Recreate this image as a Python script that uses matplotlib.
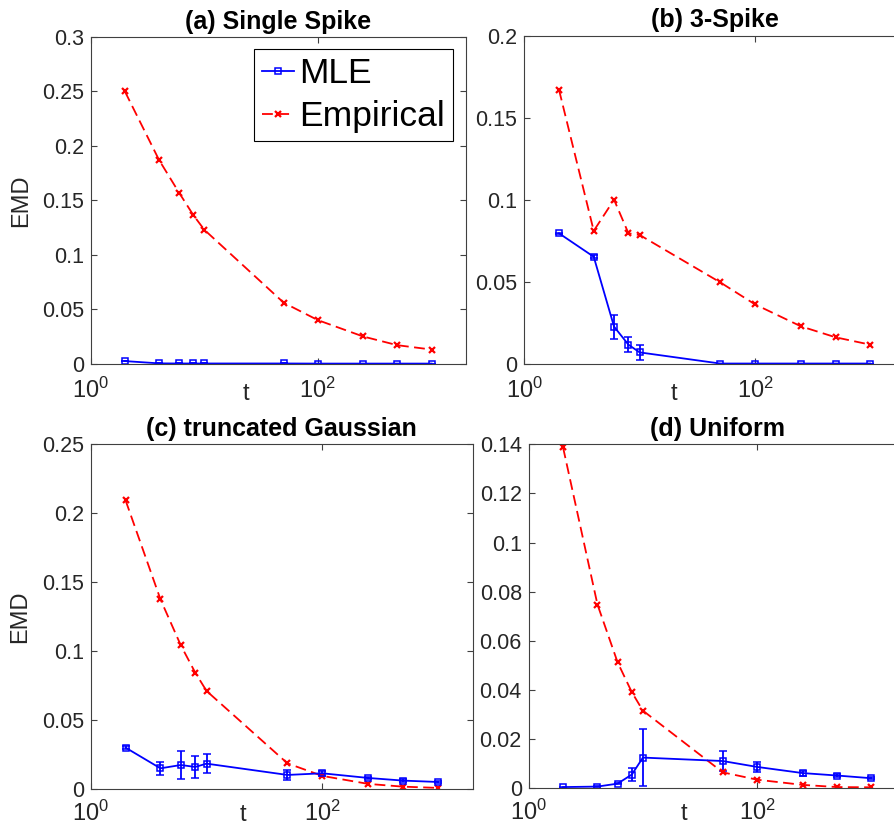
import numpy as np
import matplotlib.pyplot as plt
from matplotlib.ticker import FixedLocator, FormatStrFormatter, NullLocator

plt.rcParams['font.family'] = ['Liberation Sans', 'DejaVu Sans']
plt.rcParams['mathtext.default'] = 'regular'

######### DATA
t = [2, 4, 6, 8, 10, 50, 100, 250, 500, 1000]

titles = ['(a) Single Spike', '(b) 3-Spike', '(c) truncated Gaussian', '(d) Uniform']

emp_a = [0.250, 0.187, 0.157, 0.1365, 0.123, 0.056, 0.040, 0.025, 0.017, 0.013]
mle_a = [0.0024, 0.0003, 0.0002, 0.0002, 0.0002, 0.0002, 0.0001, 0.0001, 0.0001, 0.0001]
err_a = [0, 0, 0, 0, 0, 0, 0, 0, 0, 0]

emp_b = [0.167, 0.081, 0.100, 0.0795, 0.0785, 0.0496, 0.0362, 0.0228, 0.0161, 0.0116]
mle_b = [0.0795, 0.0652, 0.0226, 0.0116, 0.0069, 0.0001, 0.0001, 0.0001, 0.0001, 0.0001]
err_b = [0.0003, 0.001, 0.0073, 0.0045, 0.0044, 0, 0, 0, 0, 0]

emp_c = [0.2094, 0.1377, 0.1043, 0.0845, 0.0713, 0.0188, 0.0097, 0.0039, 0.0019, 0.001]
mle_c = [0.0302, 0.0152, 0.0176, 0.0162, 0.0186, 0.0104, 0.0116, 0.0082, 0.0063, 0.0053]
err_c = [0.001, 0.0045, 0.0104, 0.0077, 0.007, 0.0039, 0.002, 0.001, 0.0013, 0.0008]

emp_d = [0.1387, 0.0748, 0.0513, 0.0391, 0.0316, 0.0065, 0.0035, 0.0014, 0.0005, 0.0004]
mle_d = [0.0005, 0.0007, 0.0019, 0.0056, 0.0125, 0.0111, 0.0087, 0.0062, 0.0052, 0.0041]
err_d = [0.0002, 0.0002, 0.0003, 0.0028, 0.0117, 0.0039, 0.0022, 0.001, 0.0005, 0.0003]

ymax = [0.3, 0.2, 0.25, 0.14]
ystep = [0.05, 0.05, 0.05, 0.02]

######### LAYOUT (pixel boxes: left, top, right, bottom)
W, H = 895, 826
boxes = [(90.7, 37, 465.7, 363.7),
         (524.3, 35.7, 905, 363.7),
         (90.7, 444.3, 473, 789.3),
         (528.7, 444.3, 905.7, 788.3)]
t_xpos = [0.415, 0.393, 0.397, 0.413]
t_drop = [36, 36, 31.5, 31.5]   # px from axis to baseline of "t"
xpad = [10, 10, 8.5, 8.5]

fig = plt.figure(figsize=(W / 100, H / 100), dpi=100)

emps = [emp_a, emp_b, emp_c, emp_d]
mles = [mle_a, mle_b, mle_c, mle_d]
errs = [err_a, err_b, err_c, err_d]

axc = '#404040'
for i in range(4):
    l, tp, r, b = boxes[i]
    ax = fig.add_axes([l / W, (H - b) / H, (r - l) / W, (b - tp) / H])
    hgt = b - tp

    eb = ax.errorbar(t, mles[i], yerr=errs[i], color='blue', marker='s', markersize=5,
                     markerfacecolor='none', markeredgewidth=1.1, linewidth=1.3,
                     elinewidth=1.3, capsize=3, capthick=1.3)
    le, = ax.plot(t, emps[i], color='red', linestyle='--', dashes=(6, 3), marker='x',
                  markersize=5, markeredgewidth=1.6, linewidth=1.3)

    ax.set_xscale('log')
    ax.set_xlim(1, 2000)
    ax.set_ylim(0, ymax[i])
    ax.xaxis.set_major_locator(FixedLocator([1, 100]))
    ax.xaxis.set_minor_locator(NullLocator())
    ax.set_yticks(np.arange(0, ymax[i] + 1e-9, ystep[i]))
    ax.yaxis.set_major_formatter(FormatStrFormatter('%g'))
    ax.tick_params(direction='in', length=4, width=0.8, top=True, right=True,
                   labelsize=15.5, colors=axc, labelcolor='#262626', pad=5)
    ax.tick_params(axis='x', labelsize=17, pad=xpad[i])
    for s in ax.spines.values():
        s.set_color(axc)
        s.set_linewidth(0.8)

    ax.set_title(titles[i], fontsize=18, fontweight='bold', pad=6)
    ax.set_xlabel('t', fontsize=17, color='#262626')
    ax.xaxis.set_label_coords(t_xpos[i], -t_drop[i] / hgt)
    ax.xaxis.label.set_verticalalignment('baseline')
    if i in (0, 2):
        ax.set_ylabel('EMD', fontsize=17, color='#262626')
        ax.yaxis.set_label_coords(-0.155, 0.5)

    if i == 0:
        leg = ax.legend([eb.lines[0], le], ['MLE', 'Empirical'], loc='upper right',
                        bbox_to_anchor=(0.966, 0.963), borderaxespad=0, fontsize=25.5,
                        fancybox=False, framealpha=1, edgecolor='black',
                        handlelength=0.9, handletextpad=0.14, borderpad=0.23,
                        labelspacing=0.28)
        leg.get_frame().set_linewidth(0.8)

plt.savefig('out.png', dpi=100)
